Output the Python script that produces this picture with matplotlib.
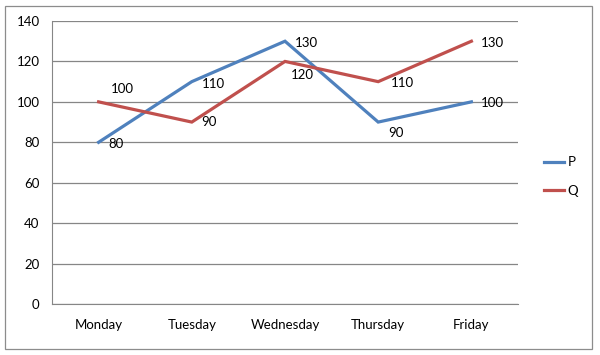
import matplotlib.pyplot as plt
from matplotlib.patches import Rectangle

days = ['Monday', 'Tuesday', 'Wednesday', 'Thursday', 'Friday']
p_vals = [80, 110, 130, 90, 100]
q_vals = [100, 90, 120, 110, 130]
y_ticks = [0, 20, 40, 60, 80, 100, 120, 140]

# label offsets in points (dx, dy)
p_offs = [(7, -1), (7, -2), (7, -1), (7, -8), (7, -1)]
q_offs = [(9, 9), (7, 0), (4, -10), (9, -1), (7, -1)]

plt.rcParams['font.family'] = ['Lato', 'DejaVu Sans']

fig = plt.figure(figsize=(6, 3.55), dpi=100)
ax = fig.add_axes([52 / 600, 51 / 355, 466 / 600, 283 / 355])

fig.patches.append(Rectangle((5 / 600, 6 / 355), 587 / 600, 343 / 355,
                             transform=fig.transFigure, fill=False,
                             edgecolor='#8c8c8c', lw=0.9))

x = range(len(days))
ax.plot(x, p_vals, color='#4F81BD', lw=2.3, label='P', solid_joinstyle='miter')
ax.plot(x, q_vals, color='#C0504D', lw=2.3, label='Q', solid_joinstyle='miter')

for i in x:
    ax.annotate(str(p_vals[i]), (i, p_vals[i]), xytext=p_offs[i],
                textcoords='offset points', va='center', ha='left', fontsize=9.5)
    ax.annotate(str(q_vals[i]), (i, q_vals[i]), xytext=q_offs[i],
                textcoords='offset points', va='center', ha='left', fontsize=9.5)

ax.set_xlim(-0.5, len(days) - 0.5)
ax.set_ylim(0, 140)
ax.set_yticks(y_ticks)
ax.set_xticks(list(x))
ax.set_xticklabels(days)
ax.tick_params(length=0, labelsize=9.5, pad=9)
ax.tick_params(axis='x', pad=11)
ax.yaxis.grid(True, color='#868686', lw=0.9)
ax.set_axisbelow(True)
for s in ['top', 'right']:
    ax.spines[s].set_visible(False)
ax.spines['left'].set_color('#868686')
ax.spines['bottom'].set_color('#868686')

ax.legend(loc='center left', bbox_to_anchor=(1.03, 0.45), frameon=False,
          fontsize=9.5, handlelength=1.5, handletextpad=0.3, labelspacing=1.25)

fig.savefig('out.png', dpi=100)
